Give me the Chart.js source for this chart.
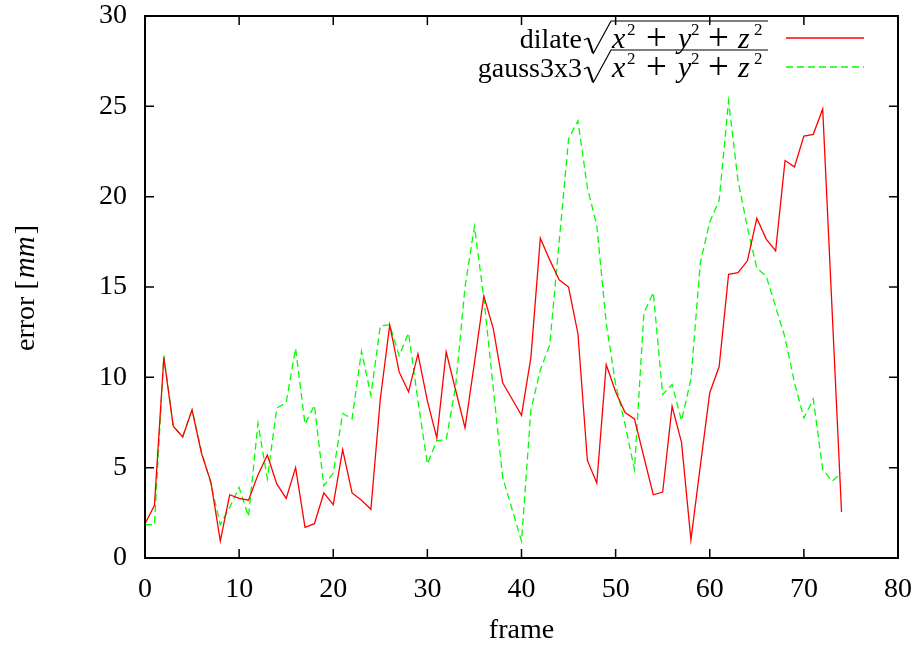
<!DOCTYPE html>
<html>
<head>
<meta charset="utf-8">
<script src="https://cdn.jsdelivr.net/npm/chart.js@4.4.0/dist/chart.umd.min.js"></script>
<style>
  html, body { margin: 0; padding: 0; background: #fff; }
  canvas { display: block; }
</style>
</head>
<body>
<canvas id="chart" width="916" height="648"></canvas>
<script>
// frame index and per-frame error (mm) for the two filters
const frames = [
  0, 1, 2, 3, 4, 5, 6, 7, 8, 9, 10, 11, 12, 13, 14, 15, 16, 17, 18, 19,
  20, 21, 22, 23, 24, 25, 26, 27, 28, 29, 30, 31, 32, 33, 34, 35, 36, 37, 38, 39,
  40, 41, 42, 43, 44, 45, 46, 47, 48, 49, 50, 51, 52, 53, 54, 55, 56, 57, 58, 59,
  60, 61, 62, 63, 64, 65, 66, 67, 68, 69, 70, 71, 72, 73, 74
];
const dilateErr = [
  1.9, 2.9, 11.1, 7.3, 6.7, 8.2, 5.8, 4.2, 0.95, 3.5, 3.3, 3.2, 4.6, 5.7, 4.1, 3.3, 5.0, 1.7, 1.9, 3.6,
  2.95, 6.0, 3.6, 3.2, 2.7, 8.8, 12.9, 10.3, 9.2, 11.3, 8.7, 6.65, 11.4, 9.3, 7.2, 10.8, 14.5, 12.7, 9.7, 8.8,
  7.9, 11.1, 17.7, 16.5, 15.4, 15.0, 12.4, 5.4, 4.15, 10.7, 9.2, 8.05, 7.7, 5.6, 3.5, 3.65, 8.4, 6.4, 1.0, 5.1,
  9.15, 10.6, 15.7, 15.8, 16.45, 18.8, 17.65, 17.0, 22.0, 21.65, 23.35, 23.45, 24.85, 13.7, 2.55
];
const gaussErr = [
  1.85, 1.85, 11.2, 7.3, 6.7, 8.2, 5.9, 4.1, 1.85, 2.8, 3.9, 2.3, 7.45, 4.4, 8.3, 8.6, 11.6, 7.4, 8.45, 4.0,
  4.7, 8.0, 7.7, 11.45, 9.0, 12.85, 12.9, 11.2, 12.45, 8.7, 5.2, 6.5, 6.55, 9.5, 15.0, 18.35, 14.4, 9.4, 4.45, 2.7,
  0.93, 8.2, 10.4, 11.8, 17.5, 23.2, 24.2, 20.5, 18.4, 13.0, 9.6, 7.4, 4.9, 13.55, 14.7, 9.05, 9.6, 7.6, 9.9, 16.35,
  18.6, 19.8, 25.3, 20.9, 18.3, 16.05, 15.6, 13.9, 12.2, 9.7, 7.75, 8.8, 4.9, 4.25, 4.7
];
const seriesNames = ['dilate', 'gauss3x3'];
const xTicks = [0, 10, 20, 30, 40, 50, 60, 70, 80];
const yTicks = [0, 5, 10, 15, 20, 25, 30];

const FONT = '"Liberation Serif", "Times New Roman", serif';

// box with inward ticks on all four sides
const frameBox = {
  id: 'frameBox',
  afterDatasetsDraw(chart) {
    const { ctx, chartArea: a, scales: { x, y } } = chart;
    ctx.save();
    ctx.strokeStyle = '#000';
    ctx.lineWidth = 1.5;
    ctx.beginPath();
    xTicks.forEach(v => {
      const px = x.getPixelForValue(v);
      ctx.moveTo(px, a.bottom); ctx.lineTo(px, a.bottom - 9);
      ctx.moveTo(px, a.top); ctx.lineTo(px, a.top + 9);
    });
    yTicks.forEach(v => {
      const py = y.getPixelForValue(v);
      ctx.moveTo(a.left, py); ctx.lineTo(a.left + 9, py);
      ctx.moveTo(a.right, py); ctx.lineTo(a.right - 9, py);
    });
    ctx.stroke();
    ctx.lineWidth = 2;
    ctx.strokeRect(a.left, a.top, a.right - a.left, a.bottom - a.top);
    ctx.restore();
  }
};

// y title with italic unit
const yTitle = {
  id: 'yTitle',
  afterDraw(chart) {
    const { ctx, chartArea: a } = chart;
    const pieces = [
      ['28px ' + FONT, 'error ['],
      ['italic 29px ' + FONT, 'mm'],
      ['28px ' + FONT, ']']
    ];
    ctx.save();
    ctx.fillStyle = '#000';
    ctx.textBaseline = 'alphabetic';
    let total = 0;
    const widths = pieces.map(([f, t]) => { ctx.font = f; const w = ctx.measureText(t).width + 2; total += w; return w; });
    ctx.translate(34, (a.top + a.bottom) / 2);
    ctx.rotate(-Math.PI / 2);
    let cx = -total / 2;
    pieces.forEach(([f, t], i) => { ctx.font = f; ctx.fillText(t, cx, 0); cx += widths[i]; });
    ctx.restore();
  }
};

// legend: "name sqrt(x^2 + y^2 + z^2)" right-aligned, line sample to the right
const sqrtLegend = {
  id: 'sqrtLegend',
  afterDraw(chart) {
    const { ctx } = chart;
    const textRight = 767, radW = 30, mathW = 155;
    const sampleL = 786, sampleR = 864;
    const rows = [48, 77];
    const roman = '28px ' + FONT, italic = 'italic 30px ' + FONT;
    const small = '17px ' + FONT, plus = '37px ' + FONT;
    // [font, text, offset from the radicand start, baseline shift]
    const math = [
      [italic, 'x', 0, 0], [small, '2', 15, -13], [plus, '+', 34, 2],
      [italic, 'y', 66, 0], [small, '2', 79, -13], [plus, '+', 96, 2],
      [italic, 'z', 126, 0], [small, '2', 142, -13]
    ];
    ctx.save();
    ctx.fillStyle = '#000';
    ctx.textBaseline = 'alphabetic';

    chart.data.datasets.forEach((ds, i) => {
      const base = rows[i];
      const mathL = textRight - mathW;
      const radL = mathL - radW;
      // name
      ctx.font = roman;
      ctx.textAlign = 'right';
      ctx.fillText(seriesNames[i], radL, base);
      ctx.textAlign = 'left';
      // radical sign and bar
      ctx.strokeStyle = '#000';
      ctx.lineJoin = 'miter';
      ctx.lineWidth = 1.2;
      ctx.beginPath();
      ctx.moveTo(radL + 2, base - 8);
      ctx.lineTo(radL + 6, base - 10);
      ctx.stroke();
      ctx.lineWidth = 2.2;
      ctx.beginPath();
      ctx.moveTo(radL + 6, base - 10);
      ctx.lineTo(radL + 11, base + 5);
      ctx.stroke();
      ctx.lineWidth = 1.2;
      ctx.beginPath();
      ctx.moveTo(radL + 11, base + 6);
      ctx.lineTo(radL + 29, base - 27);
      ctx.lineTo(textRight + 1, base - 27);
      ctx.stroke();
      // radicand
      math.forEach(([f, t, dx, dy]) => {
        ctx.font = f;
        ctx.fillText(t, mathL + dx, base + dy);
      });
      // line sample
      ctx.strokeStyle = ds.borderColor;
      ctx.lineWidth = ds.borderWidth;
      ctx.setLineDash(ds.borderDash || []);
      ctx.beginPath();
      ctx.moveTo(sampleL, base - 10);
      ctx.lineTo(sampleR, base - 10);
      ctx.stroke();
      ctx.setLineDash([]);
    });
    ctx.restore();
  }
};

const toPoints = vals => frames.map((f, i) => ({ x: f, y: vals[i] }));

// keep tick labels from pushing the plot box inward
const noEdgePadding = s => { s.paddingTop = 0; s.paddingBottom = 0; s.paddingLeft = 0; s.paddingRight = 0; };

new Chart(document.getElementById('chart'), {
  type: 'line',
  data: {
    datasets: [
      {
        label: seriesNames[0],
        data: toPoints(dilateErr),
        borderColor: 'rgb(255,0,0)',
        borderWidth: 1.3,
        pointRadius: 0,
        tension: 0,
        fill: false
      },
      {
        label: seriesNames[1],
        data: toPoints(gaussErr),
        borderColor: 'rgb(0,255,0)',
        borderWidth: 1.3,
        borderDash: [7, 4],
        pointRadius: 0,
        tension: 0,
        fill: false
      }
    ]
  },
  options: {
    responsive: false,
    animation: false,
    layout: { padding: { top: 16, right: 18, left: 0, bottom: 0 } },
    plugins: { legend: { display: false }, tooltip: { enabled: false } },
    scales: {
      x: {
        type: 'linear',
        min: 0, max: 80,
        afterBuildTicks: s => { s.ticks = xTicks.map(v => ({ value: v })); },
        afterFit: s => { s.height = 90; noEdgePadding(s); },
        grid: { display: false, drawTicks: false },
        border: { display: false },
        ticks: { color: '#000', padding: 18, font: { family: FONT, size: 28, lineHeight: 1 } },
        title: { display: true, text: 'frame', color: '#000', padding: { top: 0, bottom: 1 },
                 font: { family: FONT, size: 28, lineHeight: 1.2 } }
      },
      y: {
        min: 0, max: 30,
        afterBuildTicks: s => { s.ticks = yTicks.map(v => ({ value: v })); },
        afterFit: s => { s.width = 145; noEdgePadding(s); },
        grid: { display: false, drawTicks: false },
        border: { display: false },
        ticks: { color: '#000', padding: 18, font: { family: FONT, size: 28, lineHeight: 1 } }
      }
    }
  },
  plugins: [frameBox, yTitle, sqrtLegend]
});
</script>
</body>
</html>
